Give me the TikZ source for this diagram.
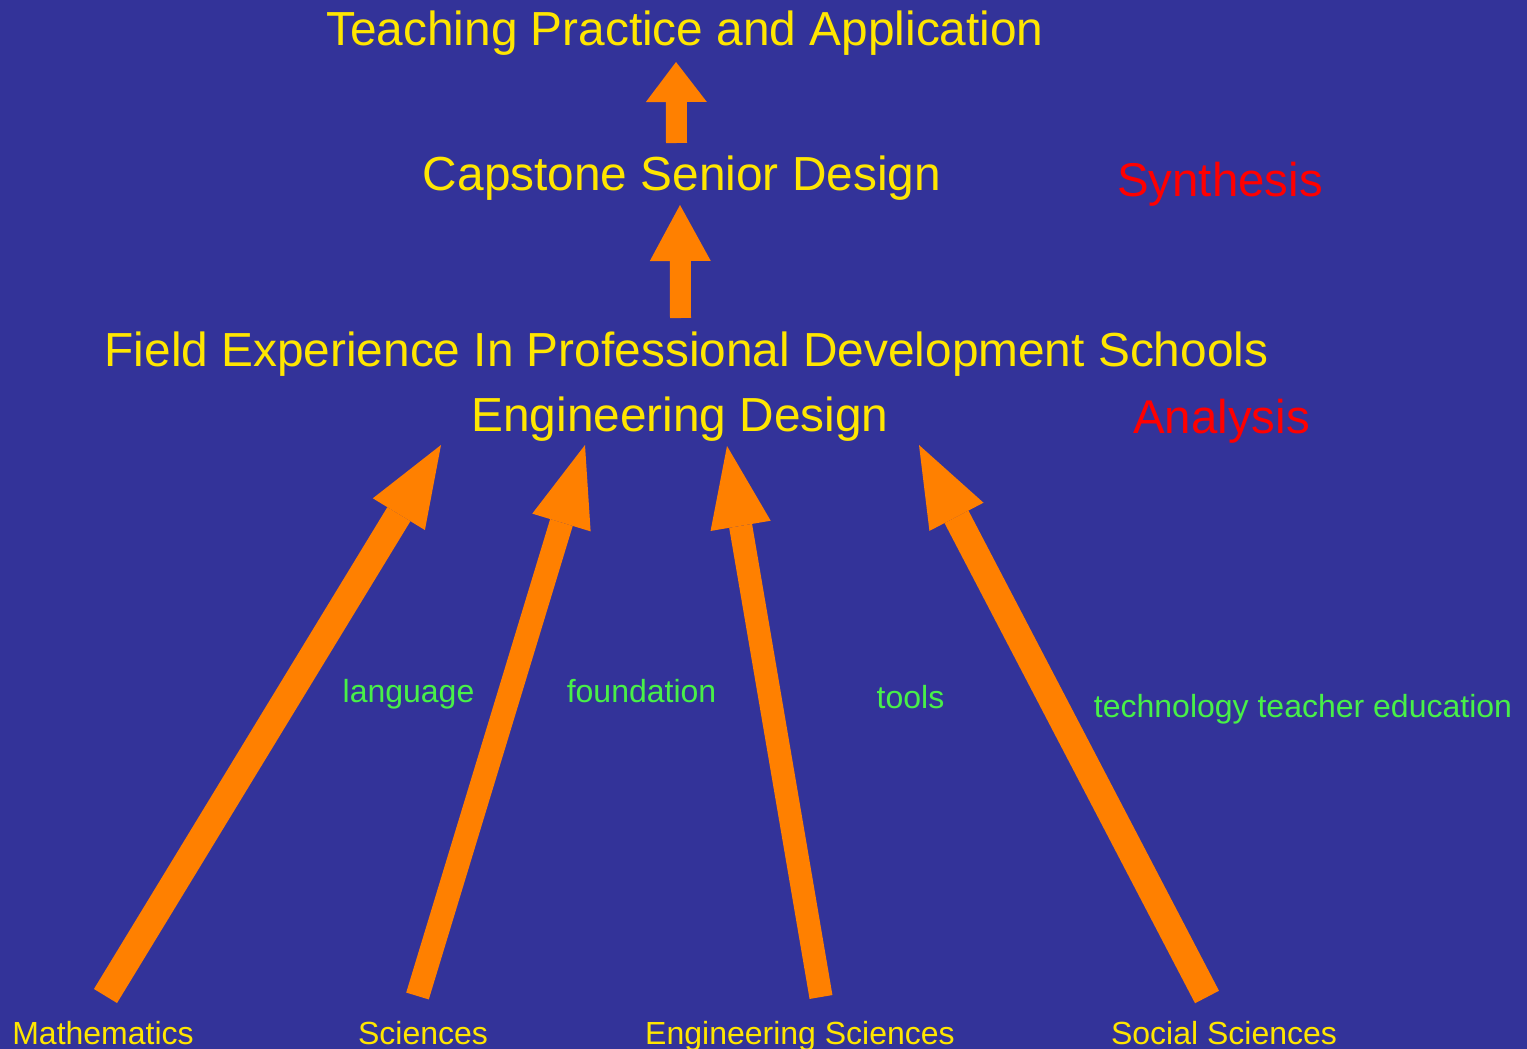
\documentclass[tikz,border=0pt]{standalone}
\usepackage{fontspec}
\setmainfont{Liberation Sans}
\usetikzlibrary{arrows.meta}

\definecolor{bgBlue}{RGB}{51,51,153}
\definecolor{arrowOrange}{RGB}{255,128,0}
\definecolor{titleYellow}{RGB}{255,230,0}
\definecolor{linkGreen}{RGB}{72,240,72}
\definecolor{levelRed}{RGB}{255,0,0}

\tikzstyle{stageNode} = [anchor=base, inner sep=0pt, text=titleYellow, font=\fontsize{23.9pt}{28pt}\selectfont]
\tikzstyle{levelNode} = [anchor=base, inner sep=0pt, text=levelRed, font=\fontsize{23.7pt}{28pt}\selectfont]
\tikzstyle{linkNode} = [anchor=base, inner sep=0pt, text=linkGreen, font=\fontsize{16pt}{19pt}\selectfont]
\tikzstyle{fieldNode} = [anchor=base, inner sep=0pt, text=titleYellow, font=\fontsize{16pt}{19pt}\selectfont]
\tikzstyle{arrowShort} = [line width=10.5pt, draw=arrowOrange, -{Triangle[width=30.5pt,length=20pt,line width=0pt]}]
\tikzstyle{arrowMid} = [line width=10.5pt, draw=arrowOrange, -{Triangle[width=30.5pt,length=28pt,line width=0pt]}]
\tikzstyle{arrowLong} = [line width=12pt, draw=arrowOrange, -{Triangle[width=30.5pt,length=40.5pt,line width=0pt]}]

\begin{document}
\begin{tikzpicture}[x=0.5pt,y=-0.5pt]
    \useasboundingbox (0,0) rectangle (1527,1049);
    \fill [bgBlue] (0,0) rectangle (1527,1049);

    \node (teaching)[stageNode] at (685,46) {Teaching Practice and Application};
    \node (capstone)[stageNode] at (682,190) {Capstone Senior Design};
    \node (field)[stageNode] at (686.5,366) {Field Experience In Professional Development Schools};
    \node (engdesign)[stageNode] at (680,431) {Engineering Design};

    \node (synthesis)[levelNode] at (1220,196) {Synthesis};
    \node (analysis)[levelNode] at (1221.5,433) {Analysis};

    \node (language)[linkNode] at (408.5,702) {language};
    \node (foundation)[linkNode] at (641.5,702) {foundation};
    \node (tools)[linkNode] at (910.5,708) {tools};
    \node (techedu)[linkNode] at (1303,717) {technology teacher education};

    \node (math)[fieldNode] at (103,1044) {Mathematics};
    \node (sci)[fieldNode] at (423,1044) {Sciences};
    \node (engsci)[fieldNode] at (800,1044) {Engineering Sciences};
    \node (socsci)[fieldNode] at (1224,1044) {Social Sciences};

    % tails and tips of the arrows
    \coordinate (field_top) at (680.5,318);
    \coordinate (capstone_bot) at (680,205);
    \coordinate (capstone_top) at (676.5,143);
    \coordinate (teaching_bot) at (676,62);
    \coordinate (math_top) at (105.5,996);
    \coordinate (sci_top) at (417.5,996);
    \coordinate (engsci_top) at (821,997);
    \coordinate (socsci_top) at (1207,997);
    \coordinate (ed1) at (441,445);
    \coordinate (ed2) at (585,445);
    \coordinate (ed3) at (727,446);
    \coordinate (ed4) at (919,445);

    \draw [arrowMid] (field_top) -- (capstone_bot);
    \draw [arrowShort] (capstone_top) -- (teaching_bot);

    \draw [arrowLong, line width=13.5pt] (math_top) -- (ed1);
    \draw [arrowLong, line width=11.8pt] (sci_top) -- (ed2);
    \draw [arrowLong, line width=11.6pt] (engsci_top) -- (ed3);
    \draw [arrowLong, line width=13.5pt] (socsci_top) -- (ed4);
\end{tikzpicture}
\end{document}
